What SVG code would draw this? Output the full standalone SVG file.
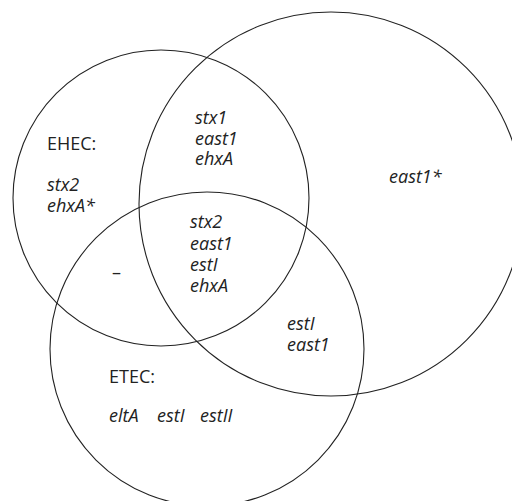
<svg xmlns="http://www.w3.org/2000/svg" width="512" height="501" viewBox="0 0 512 501">
<style>
.c{fill:none;stroke:#222;stroke-width:1.1}
.t{font-family:"Open Sans","Noto Sans","Liberation Sans",sans-serif;font-size:18px;fill:#222}
.i{font-style:italic}
</style>
<rect width="512" height="501" fill="#fff"/>
<g id="ehec"><circle class="c" cx="161" cy="198" r="148"/></g>
<g id="east1set"><circle class="c" cx="331" cy="204" r="192"/></g>
<g id="etec"><circle class="c" cx="207" cy="349" r="157"/></g>
<g id="labels">
<text class="t" x="47" y="150">EHEC:</text>
<text class="t i" x="47" y="191">stx2</text>
<text class="t i" x="47" y="212">ehxA*</text>
<text class="t i" x="195" y="124">stx1</text>
<text class="t i" x="195" y="145">east1</text>
<text class="t i" x="195" y="165">ehxA</text>
<text class="t i" x="389" y="183">east1*</text>
<text class="t i" x="190" y="228">stx2</text>
<text class="t i" x="190" y="250">east1</text>
<text class="t i" x="190" y="271">estI</text>
<text class="t i" x="190" y="292">ehxA</text>
<text class="t" x="112" y="279">–</text>
<text class="t i" x="287" y="330">estI</text>
<text class="t i" x="287" y="351">east1</text>
<text class="t" x="109" y="383">ETEC:</text>
<text class="t i" x="109" y="422">eltA</text>
<text class="t i" x="157" y="422">estI</text>
<text class="t i" x="200" y="422">estII</text>
</g>
</svg>
